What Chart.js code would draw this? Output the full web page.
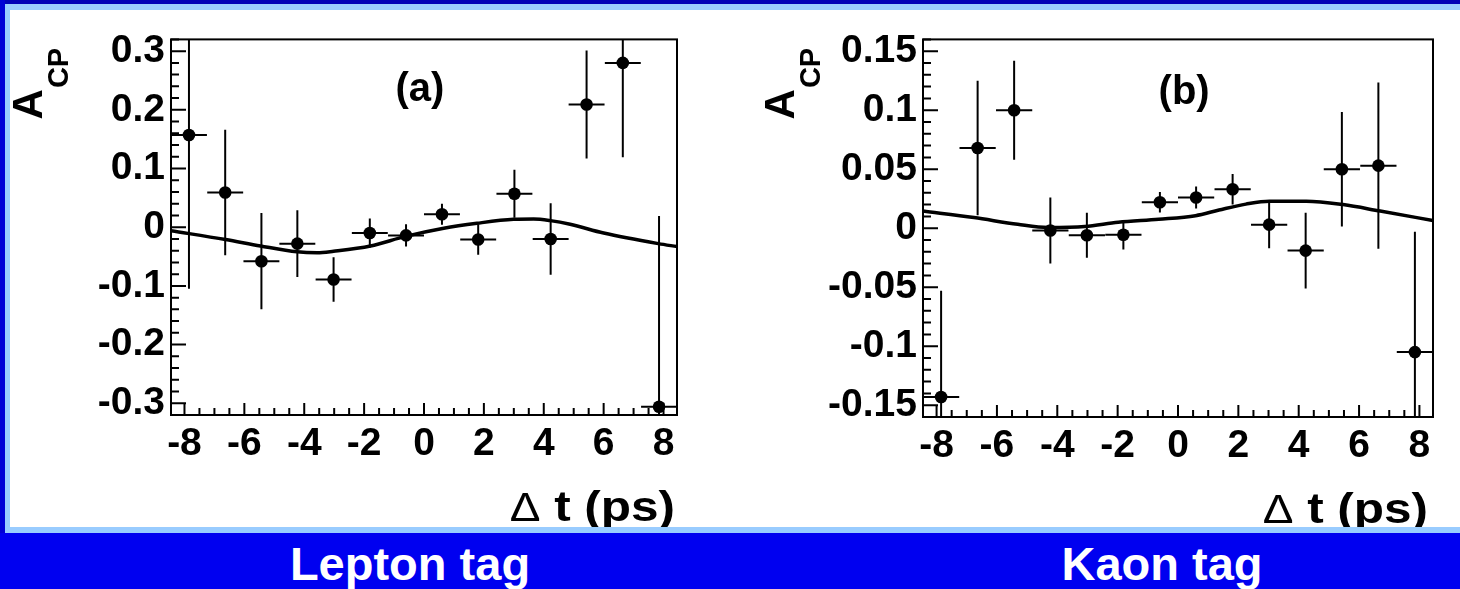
<!DOCTYPE html>
<html>
<head>
<meta charset="utf-8">
<script src="https://cdn.jsdelivr.net/npm/chart.js@4.4.1/dist/chart.umd.min.js"></script>
<style>
  html, body { margin: 0; padding: 0; }
  body { width: 1460px; height: 589px; overflow: hidden; position: relative; background: #0000f0; font-family: "Liberation Sans", Arial, sans-serif; }
  #topband { position: absolute; left: 0; top: 0; width: 1460px; height: 4px; background: #0000b8; }
  #leftband { position: absolute; left: 0; top: 0; width: 5px; height: 533px; background: #0000d6; }
  #panel { position: absolute; left: 5px; top: 4px; width: 1450px; height: 517px; background: #fff;
           border-left: 5px solid #99ccff; border-top: 6px solid #99ccff; border-bottom: 6px solid #99ccff; }
  canvas { position: absolute; top: 10px; }
  #chartA { left: 10px; }
  #chartB { left: 730px; }
  .tag { position: absolute; top: 540px; width: 400px; text-align: center; color: #fff; font-weight: bold; font-size: 47px; line-height: 47px; }
</style>
</head>
<body>
<div id="topband"></div>
<div id="leftband"></div>
<div id="panel"></div>
<canvas id="chartA" width="720" height="517"></canvas>
<canvas id="chartB" width="730" height="517"></canvas>
<div class="tag" style="left:210px">Lepton tag</div>
<div class="tag" style="left:962px">Kaon tag</div>
<script>
// bin centres of delta t (ps), shared by both plots
const binCenters = [-7.85, -6.64, -5.43, -4.23, -3.02, -1.81, -0.60, 0.60, 1.81, 3.02, 4.23, 5.43, 6.64, 7.85];
const binHalfWidth = 0.6;

// (a) lepton tag
const lepValues = [0.157, 0.059, -0.058, -0.028, -0.089, -0.010, -0.014, 0.022, -0.021, 0.057, -0.020, 0.209, 0.280, -0.306];
const lepErrors = [0.262, 0.107, 0.082, 0.057, 0.038, 0.025, 0.019, 0.018, 0.026, 0.041, 0.061, 0.092, 0.161, 0.325];
const lepCurveX = [-8.45, -6.63, -5.46, -4.24, -3.57, -3.02, -1.79, -0.62, 0.66, 1.77, 2.99, 3.66, 4.22, 4.88, 6.0, 7.83, 8.45];
const lepCurveY = [-0.006, -0.021, -0.032, -0.042, -0.0436, -0.041, -0.032, -0.0157, -0.0017, 0.0067, 0.0134, 0.014, 0.0112, 0.005, -0.010, -0.028, -0.033];

// (b) kaon tag
const kaonValues = [-0.143, 0.068, 0.100, -0.002, -0.006, -0.0055, 0.022, 0.026, 0.033, 0.003, -0.019, 0.050, 0.053, -0.105];
const kaonErrors = [0.090, 0.057, 0.042, 0.028, 0.019, 0.0125, 0.0087, 0.0094, 0.013, 0.020, 0.032, 0.0485, 0.0705, 0.102];
const kaonCurveX = [-8.45, -6.76, -5.31, -4.31, -3.09, -1.98, -0.64, 0.58, 1.36, 2.25, 3.03, 4.25, 5.47, 6.7, 8.45];
const kaonCurveY = [0.0145, 0.009, 0.0033, 0.0006, 0.0014, 0.005, 0.0075, 0.0106, 0.0154, 0.0204, 0.0229, 0.0229, 0.020, 0.0145, 0.0065];

// tick labels
const xTickValues = [-8, -6, -4, -2, 0, 2, 4, 6, 8];
const xTickLabels = ['-8', '-6', '-4', '-2', '0', '2', '4', '6', '8'];
const lepTickValues = [-0.3, -0.2, -0.1, 0, 0.1, 0.2, 0.3];
const lepTickLabels = ['-0.3', '-0.2', '-0.1', '0', '0.1', '0.2', '0.3'];
const kaonTickValues = [-0.15, -0.1, -0.05, 0, 0.05, 0.1, 0.15];
const kaonTickLabels = ['-0.15', '-0.1', '-0.05', '0', '0.05', '0.1', '0.15'];

const FONT = '"Liberation Sans", Arial, sans-serif';

// ROOT-like frame, inward ticks, error bars and labels
function rootStyle(cfg) {
  return {
    id: 'rootStyle',
    afterDatasetsDraw(chart) {
      const { ctx, chartArea: a, scales: { x, y } } = chart;
      ctx.save();
      ctx.beginPath();
      ctx.rect(a.left, a.top, a.right - a.left, a.bottom - a.top);
      ctx.clip();
      ctx.strokeStyle = '#000';
      ctx.lineWidth = 2;
      ctx.beginPath();
      binCenters.forEach((c, i) => {
        const v = cfg.values[i], e = cfg.errors[i];
        const px = x.getPixelForValue(c), py = y.getPixelForValue(v);
        ctx.moveTo(x.getPixelForValue(c - binHalfWidth), py);
        ctx.lineTo(x.getPixelForValue(c + binHalfWidth), py);
        ctx.moveTo(px, y.getPixelForValue(v + e));
        ctx.lineTo(px, y.getPixelForValue(v - e));
      });
      ctx.stroke();
      ctx.restore();
    },
    afterDraw(chart) {
      const { ctx, chartArea: a, scales: { x, y } } = chart;
      ctx.save();
      ctx.strokeStyle = '#000';
      ctx.lineWidth = 2;
      ctx.strokeRect(a.left, a.top, a.right - a.left, a.bottom - a.top);

      ctx.beginPath();
      for (let t = -8; t <= 8.001; t += 0.5) {
        const px = x.getPixelForValue(t);
        const len = (Math.abs(t % 2) < 0.01) ? 12 : 7;
        ctx.moveTo(px, a.bottom);
        ctx.lineTo(px, a.bottom - len);
      }
      const n = Math.round(2 * cfg.yMax / cfg.yMinor);
      for (let k = 0; k <= n; k++) {
        const v = -cfg.yMax + k * cfg.yMinor;
        const ratio = v / cfg.yMajor;
        const major = Math.abs(ratio - Math.round(ratio)) < 0.01;
        const py = y.getPixelForValue(v);
        ctx.moveTo(a.left, py);
        ctx.lineTo(a.left + (major ? 15 : 8), py);
      }
      ctx.stroke();

      ctx.fillStyle = '#000';
      // panel letter
      ctx.font = 'bold 40px ' + FONT;
      ctx.textAlign = 'center';
      ctx.textBaseline = 'alphabetic';
      ctx.fillText(cfg.letter, a.left + cfg.letterX * (a.right - a.left), a.top + cfg.letterY);

      // y title A_CP, rotated
      ctx.save();
      ctx.translate(a.left - 129, a.top + 80);
      ctx.rotate(-Math.PI / 2);
      ctx.textAlign = 'left';
      ctx.font = 'bold 42px ' + FONT;
      ctx.fillText('A', 0, 0);
      const wA = ctx.measureText('A').width;
      ctx.font = 'bold 29px ' + FONT;
      ctx.fillText('CP', wA + 1, 26);
      ctx.restore();

      // x title
      ctx.save();
      ctx.translate(a.right - cfg.titleRight, a.bottom + 106);
      ctx.scale(1.15, 1);
      ctx.textAlign = 'right';
      ctx.font = 'bold 43px ' + FONT;
      const part = ' t (ps)';
      ctx.fillText(part, 0, 0);
      const w2 = ctx.measureText(part).width;
      ctx.font = '40px ' + FONT;
      ctx.fillText('\u0394', -w2, 0);
      ctx.restore();

      ctx.restore();
    }
  };
}

function makeChart(id, cfg) {
  return new Chart(document.getElementById(id), {
    type: 'scatter',
    data: {
      datasets: [
        {
          data: binCenters.map((c, i) => ({ x: c, y: cfg.values[i] })),
          pointRadius: 6.3,
          pointBackgroundColor: '#000',
          pointBorderWidth: 0,
          showLine: false,
        },
        {
          data: cfg.curveX.map((c, i) => ({ x: c, y: cfg.curveY[i] })),
          showLine: true,
          borderColor: '#000',
          borderWidth: 3.5,
          pointRadius: 0,
          cubicInterpolationMode: 'monotone',
          fill: false,
        },
      ],
    },
    options: {
      responsive: false,
      animation: false,
      devicePixelRatio: 1,
      layout: { padding: { left: 0, right: cfg.padRight, top: cfg.padTop, bottom: 0 } },
      plugins: { legend: { display: false }, tooltip: { enabled: false } },
      scales: {
        x: {
          type: 'linear',
          min: -8.45,
          max: 8.45,
          grid: { display: false, drawTicks: false },
          border: { display: false },
          afterBuildTicks: (s) => { s.ticks = xTickValues.map((v) => ({ value: v })); },
          afterFit: (s) => { s.height = cfg.xHeight; },
          ticks: {
            autoSkip: false, maxRotation: 0, padding: 6, color: '#000',
            font: { family: FONT, weight: 'bold', size: 39 },
            callback: (v, i) => xTickLabels[i],
          },
        },
        y: {
          type: 'linear',
          min: -cfg.yMax,
          max: cfg.yMax,
          grid: { display: false, drawTicks: false },
          border: { display: false },
          afterBuildTicks: (s) => { s.ticks = cfg.tickValues.map((v) => ({ value: v })); },
          afterFit: (s) => { s.width = cfg.yWidth; },
          ticks: {
            autoSkip: false, padding: 6, color: '#000',
            font: { family: FONT, weight: 'bold', size: 39 },
            callback: (v, i) => cfg.tickLabels[i],
          },
        },
      },
    },
    plugins: [rootStyle(cfg)],
  });
}

makeChart('chartA', {
  values: lepValues, errors: lepErrors, curveX: lepCurveX, curveY: lepCurveY,
  tickValues: lepTickValues, tickLabels: lepTickLabels,
  yMax: 0.32, yMajor: 0.1, yMinor: 0.02,
  padRight: 53, padTop: 23, xHeight: 112, yWidth: 161,
  letter: '(a)', letterX: 0.492, letterY: 62, titleRight: 2,
});

makeChart('chartB', {
  values: kaonValues, errors: kaonErrors, curveX: kaonCurveX, curveY: kaonCurveY,
  tickValues: kaonTickValues, tickLabels: kaonTickLabels,
  yMax: 0.16, yMajor: 0.05, yMinor: 0.01,
  padRight: 27, padTop: 25, xHeight: 110, yWidth: 193,
  letter: '(b)', letterX: 0.512, letterY: 65, titleRight: 5,
});
</script>
</body>
</html>
